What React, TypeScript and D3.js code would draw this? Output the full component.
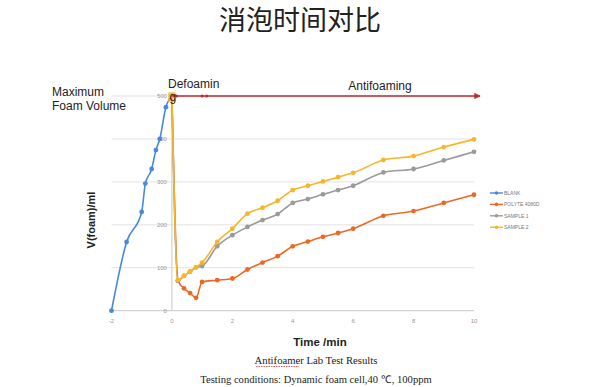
import { useEffect, useRef } from 'react'
import * as d3 from 'd3'

// Foam volume (ml) against time (min)
const blank: [number, number][] = [
  [-2, 0], [-1.5, 160], [-1, 230], [-0.88, 296], [-0.67, 330], [-0.53, 374], [-0.4, 400], [-0.2, 474], [0, 500],
]
const polyte: [number, number][] = [
  [0, 500], [0.2, 70], [0.4, 52], [0.6, 41], [0.8, 30], [1, 67], [1.5, 71], [2, 75], [2.5, 96], [3, 112], [3.5, 127],
  [4, 150], [4.5, 161], [5, 172], [5.5, 181], [6, 191], [7, 221], [8, 232], [9, 251], [10, 270],
]
const sample1: [number, number][] = [
  [0, 500], [0.2, 70], [0.4, 81], [0.6, 91], [0.8, 101], [1, 104], [1.5, 150], [2, 176], [2.5, 195], [3, 211], [3.5, 225],
  [4, 251], [4.5, 260], [5, 271], [5.5, 281], [6, 291], [7, 322], [8, 330], [9, 350], [10, 370],
]
const sample2: [number, number][] = [
  [0, 500], [0.2, 71], [0.4, 81], [0.6, 91], [0.8, 101], [1, 112], [1.5, 160], [2, 191], [2.5, 226], [3, 240], [3.5, 256],
  [4, 281], [4.5, 291], [5, 301], [5.5, 311], [6, 321], [7, 351], [8, 360], [9, 381], [10, 399],
]
const seriesNames = ['BLANK', 'POLYTE 4080D', 'SAMPLE 1', 'SAMPLE 2']
const seriesColors = ['#4a88dc', '#ec6925', '#9a9a9a', '#f7b52a']
const xTicks = [-2, 0, 2, 4, 6, 8, 10]
const yTicks = [0, 100, 200, 300, 400, 500]

export default function App() {
  const svgRef = useRef<SVGSVGElement>(null)
  const width = 600
  const height = 387

  useEffect(() => {
    if (!svgRef.current) return
    const svg = d3.select(svgRef.current)
    svg.selectAll('*').remove()

    const x = d3.scaleLinear().domain([-2, 10]).range([111.5, 474])
    const y = d3.scaleLinear().domain([0, 500]).range([310.7, 96])

    // title
    svg.append('text')
      .attr('x', 300).attr('y', 30)
      .attr('text-anchor', 'middle')
      .attr('font-family', '"Noto Sans CJK SC", sans-serif')
      .attr('font-size', 27)
      .attr('fill', '#222')
      .text('消泡时间对比')

    // gridlines
    yTicks.forEach(t => {
      svg.append('line')
        .attr('x1', x(-2)).attr('x2', x(10))
        .attr('y1', y(t)).attr('y2', y(t))
        .attr('stroke', t === 0 ? '#c8c8c8' : '#e2e2e2')
        .attr('stroke-width', 1)
    })
    // vertical axis at t = 0
    svg.append('line')
      .attr('x1', x(0)).attr('x2', x(0))
      .attr('y1', y(0)).attr('y2', y(500))
      .attr('stroke', '#c8c8c8')

    // tick labels
    yTicks.forEach(t => {
      svg.append('text')
        .attr('x', x(0) - 5).attr('y', y(t) + 2)
        .attr('text-anchor', 'end')
        .attr('font-family', 'Liberation Sans, Arial, sans-serif')
        .attr('font-size', 6)
        .attr('fill', '#999')
        .text(t)
    })
    xTicks.forEach(t => {
      svg.append('text')
        .attr('x', x(t)).attr('y', y(0) + 12)
        .attr('text-anchor', 'middle')
        .attr('font-family', 'Liberation Sans, Arial, sans-serif')
        .attr('font-size', 6)
        .attr('fill', '#999')
        .text(t)
    })

    // series
    const line = d3.line<[number, number]>()
      .x(d => x(d[0]))
      .y(d => y(d[1]))
      .curve(d3.curveMonotoneX)

    const allSeries = [blank, polyte, sample1, sample2]
    allSeries.forEach((data, i) => {
      svg.append('path')
        .datum(data)
        .attr('d', line)
        .attr('fill', 'none')
        .attr('stroke', seriesColors[i])
        .attr('stroke-width', 1.6)
      svg.selectAll(null)
        .data(data)
        .join('circle')
        .attr('cx', d => x(d[0]))
        .attr('cy', d => y(d[1]))
        .attr('r', 2.4)
        .attr('fill', seriesColors[i])
    })

    // antifoaming arrow at max volume
    const defs = svg.append('defs')
    defs.append('marker')
      .attr('id', 'arrow')
      .attr('viewBox', '0 0 10 10')
      .attr('refX', 9).attr('refY', 5)
      .attr('markerWidth', 4).attr('markerHeight', 4)
      .attr('orient', 'auto')
      .append('path')
      .attr('d', 'M0,0 L10,5 L0,10 z')
      .attr('fill', '#c0282d')
    svg.append('line')
      .attr('x1', x(0)).attr('x2', x(10.2))
      .attr('y1', y(500)).attr('y2', y(500))
      .attr('stroke', '#c0282d')
      .attr('stroke-width', 1.6)
      .attr('marker-end', 'url(#arrow)')
    ;[0.15, 1.0, 1.15].forEach(t => {
      svg.append('circle')
        .attr('cx', x(t)).attr('cy', y(500))
        .attr('r', 1.5).attr('fill', '#c0282d')
    })
    // yellow marker at the start
    svg.append('rect')
      .attr('x', x(0) - 3).attr('y', y(500) - 3)
      .attr('width', 6).attr('height', 8)
      .attr('fill', 'none')
      .attr('stroke', '#f7b52a')
      .attr('stroke-width', 1.2)

    // annotations
    const sans = 'Liberation Sans, Arial, sans-serif'
    svg.append('text').attr('x', 52).attr('y', 96)
      .attr('font-family', sans).attr('font-size', 12).attr('fill', '#222')
      .text('Maximum')
    svg.append('text').attr('x', 52).attr('y', 110)
      .attr('font-family', sans).attr('font-size', 12).attr('fill', '#222')
      .text('Foam Volume')
    svg.append('text').attr('x', 168).attr('y', 88)
      .attr('font-family', sans).attr('font-size', 12).attr('fill', '#222')
      .text('Defoamin')
    svg.append('text').attr('x', 169.5).attr('y', 101)
      .attr('font-family', sans).attr('font-size', 12).attr('fill', '#222')
      .text('g')
    svg.append('text').attr('x', 380).attr('y', 90)
      .attr('text-anchor', 'middle')
      .attr('font-family', sans).attr('font-size', 12).attr('fill', '#222')
      .text('Antifoaming')

    // axis titles
    svg.append('text')
      .attr('transform', `translate(95, 220) rotate(-90)`)
      .attr('text-anchor', 'middle')
      .attr('font-family', sans).attr('font-size', 11).attr('font-weight', 'bold')
      .attr('fill', '#222')
      .text('V(foam)/ml')
    svg.append('text')
      .attr('x', 320).attr('y', 346)
      .attr('text-anchor', 'middle')
      .attr('font-family', sans).attr('font-size', 11.5).attr('font-weight', 'bold')
      .attr('fill', '#222')
      .text('Time /min')

    // captions
    const serif = 'Liberation Serif, Times New Roman, serif'
    svg.append('text')
      .attr('x', 316).attr('y', 364)
      .attr('text-anchor', 'middle')
      .attr('font-family', serif).attr('font-size', 10.7).attr('fill', '#222')
      .text('Antifoamer Lab Test Results')
    // spell-check squiggle under "Antifoamer"
    svg.append('line')
      .attr('x1', 256).attr('x2', 299).attr('y1', 366.5).attr('y2', 366.5)
      .attr('stroke', '#d33').attr('stroke-width', 0.8).attr('stroke-dasharray', '1.5,1')
    svg.append('text')
      .attr('x', 316).attr('y', 383)
      .attr('text-anchor', 'middle')
      .attr('font-family', serif).attr('font-size', 10.6).attr('fill', '#222')
      .text('Testing conditions: Dynamic foam cell,40 ℃, 100ppm')

    // legend
    const legend = svg.append('g').attr('transform', 'translate(490, 193)')
    seriesNames.forEach((name, i) => {
      const g = legend.append('g').attr('transform', `translate(0, ${i * 11.4})`)
      g.append('line').attr('x1', 0).attr('x2', 13).attr('y1', 0).attr('y2', 0)
        .attr('stroke', seriesColors[i]).attr('stroke-width', 1.4)
      g.append('circle').attr('cx', 6.5).attr('cy', 0).attr('r', 1.8).attr('fill', seriesColors[i])
      g.append('text').attr('x', 14).attr('y', 2)
        .attr('font-family', sans).attr('font-size', 5).attr('fill', '#777')
        .text(name)
    })
  }, [])

  return (
    <svg
      ref={svgRef}
      width={width}
      height={height}
      style={{ position: 'absolute', left: 0, top: 0, background: '#fff' }}
    />
  )
}
